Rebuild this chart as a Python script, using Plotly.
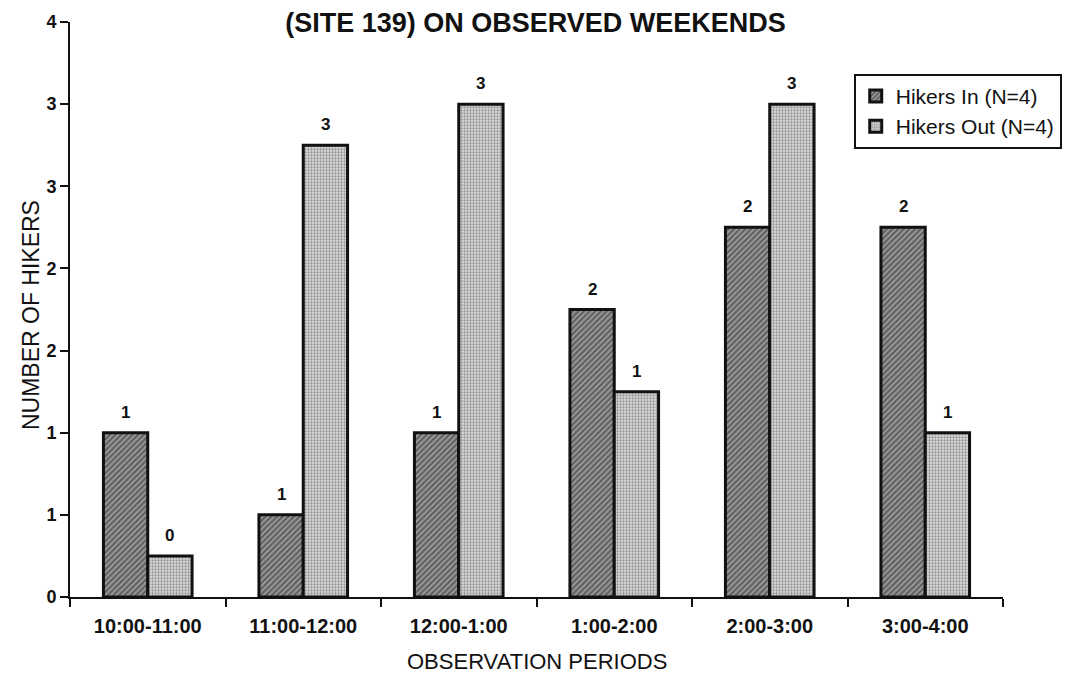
import math
import plotly.graph_objects as go

# Observation periods and mean hiker counts per period
periods = ["10:00-11:00", "11:00-12:00", "12:00-1:00", "1:00-2:00", "2:00-3:00", "3:00-4:00"]
hikers_in = [1.0, 0.5, 1.0, 1.75, 2.25, 2.25]
hikers_out = [0.25, 2.75, 3.0, 1.25, 3.0, 1.0]
series_names = ["Hikers In (N=4)", "Hikers Out (N=4)"]
y_ticks = [0, 0.5, 1.0, 1.5, 2.0, 2.5, 3.0, 3.5]

FONT = "Liberation Sans, Arial, sans-serif"
BAR_GAP = 0.43


def whole(v):
    """Round half up to a whole hiker count, as printed on the chart."""
    return str(int(math.floor(v + 0.5)))


fig = go.Figure()

fig.add_trace(go.Bar(
    name=series_names[0], x=periods, y=hikers_in,
    marker=dict(
        color="#8a8a8a",
        line=dict(color="#111111", width=3),
        pattern=dict(shape="/", fgcolor="#1e1e1e", bgcolor="#9a9a9a", size=4, solidity=0.5),
    ),
))
fig.add_trace(go.Bar(
    name=series_names[1], x=periods, y=hikers_out,
    marker=dict(
        color="#c8c8c8",
        line=dict(color="#111111", width=3),
        pattern=dict(shape=".", fgcolor="#4a4a4a", bgcolor="#dcdcdc", size=3, solidity=0.45),
    ),
))

# Value labels above each bar
n_cat = len(periods)
plot_w = 1074 - 70 - 69
bar_px = plot_w / n_cat * (1 - BAR_GAP) / 2
annotations = []
for j, vals in enumerate([hikers_in, hikers_out]):
    for cat, v in zip(periods, vals):
        annotations.append(dict(
            x=cat, y=v, xref="x", yref="y", text=whole(v),
            showarrow=False, yanchor="bottom",
            xshift=(j - 0.5) * bar_px, yshift=9,
            font=dict(family=FONT, size=17, color="#111111", weight="bold"),
        ))

# Axis titles
annotations.append(dict(
    text="NUMBER OF HIKERS", textangle=-90, xref="paper", yref="paper",
    x=-0.042, y=0.49, xanchor="center", yanchor="middle", showarrow=False,
    font=dict(family=FONT, size=23, color="#111111"),
))
annotations.append(dict(
    text="OBSERVATION PERIODS", xref="paper", yref="paper",
    x=0.5, y=-0.113, xanchor="center", yanchor="middle", showarrow=False,
    font=dict(family=FONT, size=22, color="#111111"),
))

fig.update_layout(
    width=1074, height=680,
    margin=dict(l=70, r=69, t=18, b=83),
    paper_bgcolor="white", plot_bgcolor="white",
    barmode="group", bargap=BAR_GAP, bargroupgap=0,
    title=dict(
        text="<b>(SITE 139) ON OBSERVED WEEKENDS</b>",
        x=0.499, xanchor="center", xref="paper",
        y=1 - 23 / 680, yanchor="middle", yref="container",
        font=dict(family=FONT, size=27, color="#111111"),
    ),
    showlegend=True,
    legend=dict(
        x=0.84, y=0.91, xanchor="left", yanchor="top",
        bgcolor="white", bordercolor="#111111", borderwidth=2,
        font=dict(family=FONT, size=21, color="#111111"),
        itemwidth=30, tracegroupgap=0,
    ),
    xaxis=dict(
        type="category", showgrid=False, zeroline=False,
        showline=True, linecolor="#111111", linewidth=2,
        ticks="outside", tickson="boundaries", ticklen=8, tickcolor="#111111", tickwidth=2,
        ticklabelstandoff=10,
        tickfont=dict(family=FONT, size=20, color="#111111", weight="bold"),
        range=[-0.5, n_cat - 0.5],
    ),
    xaxis2=dict(
        overlaying="x", anchor="y", range=[-0.5, n_cat - 0.5],
        tickvals=[i - 0.5 for i in range(n_cat + 1)],
        ticks="inside", ticklen=6, tickcolor="#111111", tickwidth=2,
        showticklabels=False, showgrid=False, zeroline=False, showline=False,
    ),
    yaxis=dict(
        range=[0, 3.5], tickvals=y_ticks, tickformat=".0f",
        showgrid=False, zeroline=False,
        showline=True, linecolor="#111111", linewidth=2,
        ticks="outside", ticklen=8, tickcolor="#111111", tickwidth=2,
        tickfont=dict(family=FONT, size=18, color="#111111", weight="bold"),
    ),
    yaxis2=dict(
        overlaying="y", anchor="x", range=[0, 3.5], tickvals=y_ticks,
        ticks="inside", ticklen=8, tickcolor="#111111", tickwidth=2,
        showticklabels=False, showgrid=False, zeroline=False, showline=False,
    ),
    annotations=annotations,
)

fig.write_html("out.html")
